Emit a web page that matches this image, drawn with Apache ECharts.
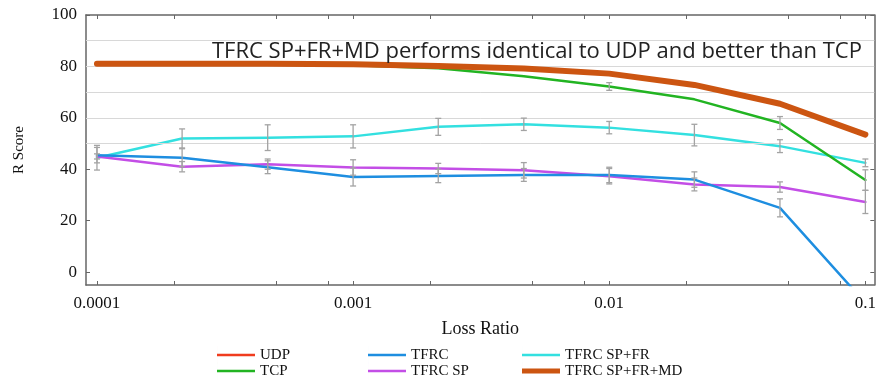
<!DOCTYPE html>
<html>
<head>
<meta charset="utf-8">
<script src="https://cdn.jsdelivr.net/npm/echarts@6/dist/echarts.min.js"></script>
<style>
  html, body { margin: 0; padding: 0; background: #fff; }
  #chart { width: 879px; height: 382px; }
</style>
</head>
<body>
<div id="chart"></div>
<script>
// Loss ratios sampled at thirds of a decade
const lossRatio = [0.0001, 0.000215, 0.000464, 0.001, 0.00215, 0.00464, 0.01, 0.0215, 0.0464, 0.1];

// R score per protocol
const udp        = [81, 81, 81, 80.8, 80.2, 79.2, 77.2, 72.8, 65.5, 53.5];
const tcp        = [81, 81, 81, 80.5, 79.3, 76.2, 72.2, 67.2, 58, 35.8];
const tfrc       = [45.5, 44.5, 40.8, 37, 37.4, 37.8, 37.8, 36, 25, -12];
const tfrcSp     = [45, 41, 42, 40.7, 40.3, 39.6, 37.3, 34.1, 33.1, 27.3];
const tfrcSpFr   = [44.5, 52, 52.3, 52.8, 56.5, 57.5, 56.2, 53.3, 49, 42.5];
const tfrcSpFrMd = [81, 81, 81, 80.8, 80.2, 79.2, 77.2, 72.8, 65.5, 53.5];

// Half-length of the error bars (0 = no bar)
const tcpErr      = [0, 0, 0, 0, 0, 0, 1.5, 0, 2.5, 4];
const tfrcErr     = [3, 3.5, 2.5, 3.5, 2.6, 2.5, 3, 3, 3.5, 0];
const tfrcSpErr   = [1, 2, 2, 3, 2, 3, 3, 2.5, 2, 4.5];
const tfrcSpFrErr = [4.8, 3.7, 5, 4.5, 3.3, 2.4, 2.4, 4.2, 2.5, 1.5];

// Axis ticks
const xTickValues = [0.0001, 0.001, 0.01, 0.1];
const xTickLabels = ['0.0001', '0.001', '0.01', '0.1'];
const xMinorMultipliers = [2, 5, 8];
const yTickValues = [0, 20, 40, 60, 80, 100];
const yGridValues = [50, 60, 70, 80, 90];

const annotation = 'TFRC SP+FR+MD performs identical to UDP and better than TCP';

const lg = Math.log10;
const toPoints = vals => lossRatio.map((x, i) => [lg(x), vals[i]]);

const xMajorLog = xTickValues.map(lg);
const xAllTicks = [];
xTickValues.forEach(v => {
  xAllTicks.push(lg(v));
  if (v < 0.1) xMinorMultipliers.forEach(m => xAllTicks.push(lg(v * m)));
});

const errorData = [];
[[tcp, tcpErr], [tfrc, tfrcErr], [tfrcSp, tfrcSpErr], [tfrcSpFr, tfrcSpFrErr]].forEach(([vals, errs]) => {
  vals.forEach((v, i) => {
    if (errs[i] > 0) errorData.push([lg(lossRatio[i]), v - errs[i], v + errs[i]]);
  });
});

const xMin = -4.0428, xMax = -0.965;
const axisColor = '#666';
const serif = 'Liberation Serif';

const colors = {
  'UDP': '#f03c1e',
  'TCP': '#22b422',
  'TFRC': '#1e8ee0',
  'TFRC SP': '#c34ee6',
  'TFRC SP+FR': '#33e0e0',
  'TFRC SP+FR+MD': '#cc5511'
};

const xAxisBase = {
  type: 'value', min: xMin, max: xMax,
  axisLine: { show: true, onZero: false, lineStyle: { color: axisColor, width: 1.5 } },
  axisTick: { show: true, inside: true, length: 4, customValues: xAllTicks, lineStyle: { color: axisColor } },
  splitLine: { show: false }
};
const yAxisBase = {
  type: 'value', min: -5, max: 100,
  axisLine: { show: true, onZero: false, lineStyle: { color: axisColor, width: 1.5 } },
  axisTick: { show: true, inside: true, length: 4, customValues: yTickValues, lineStyle: { color: axisColor } },
  splitLine: { show: false }
};

function lineSeries(name, vals, width, z) {
  const color = colors[name];
  return {
    name, type: 'line', data: toPoints(vals), symbol: 'none', z,
    lineStyle: { color, width, cap: 'round', join: 'round' },
    itemStyle: { color },
    emphasis: { disabled: true }
  };
}

// legend entries laid out as three columns by two rows
const legendLayout = [
  ['UDP', 217, 355], ['TFRC', 368, 355], ['TFRC SP+FR', 522, 355],
  ['TCP', 217, 371], ['TFRC SP', 368, 371], ['TFRC SP+FR+MD', 522, 371]
];
const legends = legendLayout.map(([name, left, cy]) => {
  const h = name === 'TFRC SP+FR+MD' ? 5 : 2.5;
  return {
    orient: 'horizontal', padding: 0, left, top: cy - 9,
    itemWidth: 38, itemHeight: 18, itemTextGap: 8, selectedMode: false,
    data: [{
      name,
      icon: 'path://M0,' + (9 - h / 2) + 'h38v' + h + 'h-38z M0,0h0.01v18h-0.01z',
      itemStyle: { color: colors[name], borderWidth: 0 }
    }],
    textStyle: { fontFamily: serif, fontSize: 15, color: '#111' }
  };
});

const chart = echarts.init(document.getElementById('chart'));
chart.setOption({
  animation: false,
  backgroundColor: '#fff',
  grid: { left: 86, right: 2, top: 15, bottom: 97, containLabel: false },
  xAxis: [
    Object.assign({}, xAxisBase, {
      position: 'bottom',
      name: 'Loss Ratio', nameLocation: 'middle', nameGap: 35,
      nameTextStyle: { fontFamily: serif, fontSize: 18, color: '#111' },
      axisLabel: {
        show: true, margin: 10, customValues: xMajorLog,
        fontFamily: serif, fontSize: 17, color: '#111',
        formatter: v => xTickLabels[xMajorLog.findIndex(t => Math.abs(t - v) < 1e-6)]
      }
    }),
    Object.assign({}, xAxisBase, { position: 'top', axisLabel: { show: false } })
  ],
  yAxis: [
    Object.assign({}, yAxisBase, {
      position: 'left',
      name: 'R Score', nameLocation: 'middle', nameGap: 59, nameRotate: 90,
      nameTextStyle: { fontFamily: serif, fontSize: 15, color: '#111' },
      axisLabel: {
        show: true, margin: 9, customValues: yTickValues,
        fontFamily: serif, fontSize: 17, color: '#111'
      }
    }),
    Object.assign({}, yAxisBase, { position: 'right', axisLabel: { show: false } })
  ],
  legend: legends,
  series: [
    {
      name: 'grid', type: 'line', data: [], z: 1, silent: true,
      markLine: {
        silent: true, symbol: 'none', label: { show: false },
        lineStyle: { color: '#d8d8d8', width: 1, type: 'solid' },
        emphasis: { disabled: true },
        data: yGridValues.map(v => ({ yAxis: v }))
      }
    },
    lineSeries('TFRC SP+FR', tfrcSpFr, 2.5, 3),
    lineSeries('TFRC SP', tfrcSp, 2.5, 3),
    lineSeries('TFRC', tfrc, 2.5, 4),
    lineSeries('TCP', tcp, 2.5, 5),
    lineSeries('UDP', udp, 2.5, 5),
    {
      name: 'errors', type: 'custom', z: 6, silent: true,
      data: errorData,
      renderItem: (params, api) => {
        const x = api.value(0);
        const lo = api.coord([x, api.value(1)]);
        const hi = api.coord([x, api.value(2)]);
        const s = { stroke: '#a3a3a3', lineWidth: 1.3 };
        return {
          type: 'group',
          children: [
            { type: 'line', shape: { x1: lo[0], y1: lo[1], x2: hi[0], y2: hi[1] }, style: s },
            { type: 'line', shape: { x1: lo[0] - 3, y1: lo[1], x2: lo[0] + 3, y2: lo[1] }, style: s },
            { type: 'line', shape: { x1: hi[0] - 3, y1: hi[1], x2: hi[0] + 3, y2: hi[1] }, style: s }
          ]
        };
      }
    },
    lineSeries('TFRC SP+FR+MD', tfrcSpFrMd, 6, 7)
  ],
  graphic: [{
    type: 'text', left: 212, top: 41, z: 10,
    style: { text: annotation, fontFamily: 'Open Sans', fontSize: 22, fill: '#222' }
  }]
});
</script>
</body>
</html>
